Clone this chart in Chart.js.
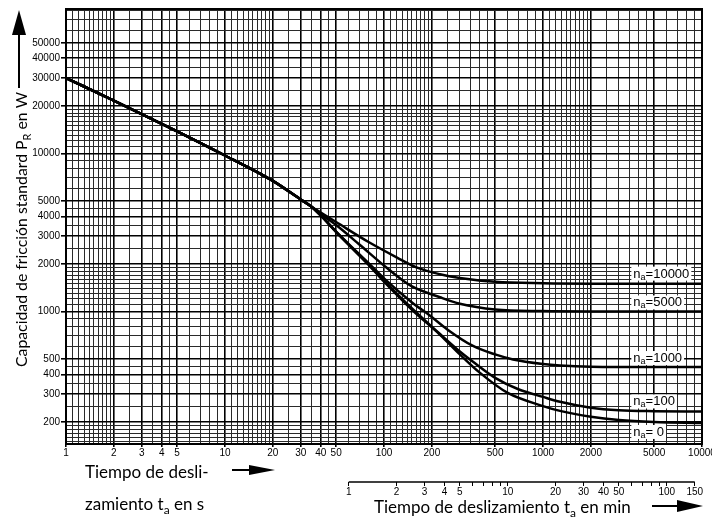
<!DOCTYPE html>
<html>
<head>
<meta charset="utf-8">
<script src="https://cdn.jsdelivr.net/npm/chart.js@4.4.0/dist/chart.umd.min.js"></script>
<style>
  body { margin: 0; background: #fff; }
  canvas { display: block; }
</style>
</head>
<body>
<canvas id="frictionChart" width="712" height="519"></canvas>
<script>
// slip time t_a in s and standard friction capacity P_R in W
const tCommon = [1, 2, 5, 10, 20, 30, 35];
const pCommon = [30000, 21600, 13800, 9700, 6700, 5100, 4600];

const t10000 = [40, 50, 80, 120, 160, 225, 300, 500, 1000, 2000, 10000];
const p10000 = [4230, 3680, 2750, 2200, 1900, 1720, 1630, 1540, 1508, 1500, 1500];

const t5000 = [40, 50, 70, 100, 126, 150, 225, 300, 500, 1000, 2000, 10000];
const p5000 = [4150, 3520, 2650, 1950, 1620, 1440, 1230, 1120, 1030, 1005, 1000, 1000];

const t1000 = [40, 50, 60, 80, 100, 150, 195, 250, 363, 500, 648, 1000, 1279, 2000, 5000, 10000];
const p1000 = [4050, 3200, 2670, 2020, 1620, 1140, 940, 770, 605, 535, 497, 465, 455, 447, 445, 445];

const t100 = [40, 50, 60, 80, 100, 150, 225, 300, 363, 500, 700, 1000, 1279, 2000, 3000, 5000, 10000];
const p100 = [4050, 3190, 2650, 1990, 1570, 1045, 720, 558, 480, 380, 322, 288, 268, 246, 237, 234, 233];

const t0 = [40, 50, 60, 80, 100, 150, 225, 300, 400, 600, 1000, 1279, 2000, 3000, 5000, 10000];
const p0 = [4050, 3180, 2640, 1970, 1545, 1025, 712, 535, 410, 305, 252, 235, 216, 206, 200, 197];

const naLabels = ['=10000', '=5000', '=1000', '=100', '= 0'];

// axis ticks
const gridMantissas = [1, 1.1, 1.2, 1.3, 1.4, 1.5, 1.6, 1.7, 1.8, 1.9, 2, 2.5, 3, 3.5, 4, 4.5, 5, 6, 7, 8, 9];
const secLabels = [1, 2, 3, 4, 5, 10, 20, 30, 40, 50, 100, 200, 500, 1000, 2000, 5000, 10000];
const powerLabels = [200, 300, 400, 500, 1000, 2000, 3000, 4000, 5000, 10000, 20000, 30000, 40000, 50000];
const minMarks = [1, 2, 3, 4, 5, 6, 7, 8, 9, 10, 20, 30, 40, 50, 60, 70, 80, 90, 100, 150];
const minLabels = [1, 2, 3, 4, 5, 10, 20, 30, 40, 50, 100, 150];

const tickFont = '"Liberation Sans", Arial, sans-serif';
const titleFont = 'Lato, "Open Sans", sans-serif';

function makeSeries(tBranch, pBranch) {
    const t = tCommon.concat(tBranch);
    const p = pCommon.concat(pBranch);
    return t.map((v, i) => ({ x: v, y: p[i] }));
}

function gridValues(lo, hi) {
    const vals = [];
    for (let e = Math.floor(Math.log10(lo)); e <= Math.ceil(Math.log10(hi)); e++) {
        gridMantissas.forEach(m => {
            const v = parseFloat((m * Math.pow(10, e)).toPrecision(6));
            if (v >= lo && v <= hi) vals.push(v);
        });
    }
    return vals;
}

function fixBox(size) {
    return function(scale) {
        if (scale.isHorizontal()) scale.height = size; else scale.width = size;
        scale.paddingLeft = 0; scale.paddingRight = 0;
        scale.paddingTop = 0; scale.paddingBottom = 0;
    };
}

// text with a subscript part: parts = [[text, isSub], ...]
function drawRich(ctx, parts, x, y, size) {
    parts.forEach(([text, sub]) => {
        ctx.font = (sub ? Math.round(size * 0.7) : size) + 'px ' + titleFont;
        ctx.fillText(text, x, sub ? y + size * 0.24 : y);
        x += ctx.measureText(text).width;
    });
    return x;
}

function arrowRight(ctx, x0, x1, head, y, half) {
    ctx.beginPath();
    ctx.moveTo(x0, y); ctx.lineTo(x1 - head, y);
    ctx.stroke();
    ctx.beginPath();
    ctx.moveTo(x1, y); ctx.lineTo(x1 - head, y - half); ctx.lineTo(x1 - head, y + half);
    ctx.closePath(); ctx.fill();
}

const decorPlugin = {
    id: 'decor',
    afterDatasetsDraw(chart) {
        const ctx = chart.ctx;
        const xs = chart.scales.x, ys = chart.scales.y;
        ctx.save();
        ctx.textBaseline = 'alphabetic';
        const shift = [-6, -5, -5, -6, 13];
        chart.data.datasets.forEach((ds, i) => {
            const last = ds.data[ds.data.length - 1];
            const x = xs.getPixelForValue(3700);
            const y = ys.getPixelForValue(last.y) + shift[i];
            ctx.font = '13px ' + tickFont;
            const w1 = ctx.measureText('n').width;
            ctx.font = '9px ' + tickFont;
            const w2 = ctx.measureText('a').width;
            ctx.font = '13px ' + tickFont;
            const w3 = ctx.measureText(naLabels[i]).width;
            ctx.fillStyle = '#fff';
            ctx.fillRect(x - 2, y - 11, w1 + w2 + w3 + 4, 14);
            ctx.fillStyle = '#000';
            ctx.fillText('n', x, y);
            ctx.font = '9px ' + tickFont;
            ctx.fillText('a', x + w1, y + 2);
            ctx.font = '13px ' + tickFont;
            ctx.fillText(naLabels[i], x + w1 + w2, y);
        });
        ctx.restore();
    },
    afterDraw(chart) {
        const ctx = chart.ctx;
        const a = chart.chartArea;
        const ms = chart.scales.xMin;
        ctx.save();
        ctx.strokeStyle = '#000';
        ctx.fillStyle = '#000';
        ctx.lineWidth = 2;
        ctx.strokeRect(a.left, a.top, a.right - a.left, a.bottom - a.top);

        // minute axis line, only from 1 to 150 min
        ctx.lineWidth = 1.5;
        ctx.beginPath();
        ctx.moveTo(ms.getPixelForValue(1), ms.top);
        ctx.lineTo(ms.getPixelForValue(150), ms.top);
        ctx.stroke();

        // axis titles
        ctx.textBaseline = 'alphabetic';
        ctx.textAlign = 'left';
        drawRich(ctx, [['Tiempo de desli-', false]], 85, 478, 17);
        drawRich(ctx, [['zamiento t', false], ['a', true], [' en s', false]], 85, 510, 17);
        ctx.lineWidth = 2;
        arrowRight(ctx, 232, 275, 26, 470, 5);

        drawRich(ctx, [['Tiempo de deslizamiento t', false], ['a', true], [' en min', false]], 374, 513, 17);
        arrowRight(ctx, 652, 703, 26, 506, 6);

        ctx.save();
        ctx.translate(27, 367);
        ctx.rotate(-Math.PI / 2);
        const end = drawRich(ctx, [['Capacidad de fricción standard P', false], ['R', true], [' en W', false]], 0, 0, 15.8);
        ctx.restore();
        const yEnd = 367 - end;
        ctx.beginPath();
        ctx.moveTo(19, yEnd - 4); ctx.lineTo(19, 35);
        ctx.stroke();
        ctx.beginPath();
        ctx.moveTo(19, 10); ctx.lineTo(12, 35); ctx.lineTo(26, 35);
        ctx.closePath(); ctx.fill();
        ctx.restore();
    }
};

function lineSet(tb, pb) {
    return {
        data: makeSeries(tb, pb),
        borderColor: '#000',
        borderWidth: 2.5,
        pointRadius: 0,
        fill: false,
        cubicInterpolationMode: 'monotone'
    };
}

const ctx = document.getElementById('frictionChart').getContext('2d');
new Chart(ctx, {
    type: 'line',
    data: {
        datasets: [
            lineSet(t10000, p10000),
            lineSet(t5000, p5000),
            lineSet(t1000, p1000),
            lineSet(t100, p100),
            lineSet(t0, p0)
        ]
    },
    options: {
        responsive: false,
        animation: false,
        events: [],
        layout: { padding: { left: 0, right: 10, top: 9, bottom: 0 } },
        plugins: {
            legend: { display: false },
            tooltip: { enabled: false }
        },
        scales: {
            x: {
                type: 'logarithmic',
                position: 'bottom',
                weight: 0,
                min: 1,
                max: 10000,
                afterFit: fixBox(38),
                afterBuildTicks: scale => { scale.ticks = gridValues(1, 10000).map(v => ({ value: v })); },
                border: { display: true, color: '#000', width: 2 },
                grid: {
                    color: c => secLabels.includes(c.tick.value) ? '#000' : '#2a2a2a',
                    lineWidth: c => secLabels.includes(c.tick.value) ? 1.6 : 1,
                    tickColor: c => secLabels.includes(c.tick.value) ? '#000' : 'rgba(0,0,0,0)',
                    tickLength: 3
                },
                ticks: {
                    autoSkip: false,
                    maxRotation: 0,
                    minRotation: 0,
                    padding: 0,
                    color: '#000',
                    font: { family: tickFont, size: 10 },
                    callback: v => secLabels.includes(v) ? String(v) : ''
                }
            },
            xMin: {
                type: 'logarithmic',
                position: 'bottom',
                weight: 1,
                min: 1 / 60,
                max: 10000 / 60,
                afterFit: fixBox(37),
                afterBuildTicks: scale => { scale.ticks = minMarks.map(v => ({ value: v })); },
                border: { display: false },
                grid: {
                    drawOnChartArea: false,
                    drawTicks: true,
                    tickLength: 4,
                    color: '#000',
                    tickColor: '#000',
                    lineWidth: 1
                },
                ticks: {
                    autoSkip: false,
                    maxRotation: 0,
                    minRotation: 0,
                    padding: 0,
                    color: '#000',
                    font: { family: tickFont, size: 10 },
                    callback: v => minLabels.includes(v) ? String(v) : ''
                }
            },
            y: {
                type: 'logarithmic',
                position: 'left',
                min: 145,
                max: 82000,
                afterFit: fixBox(66),
                afterBuildTicks: scale => { scale.ticks = gridValues(145, 82000).map(v => ({ value: v })); },
                border: { display: true, color: '#000', width: 2 },
                grid: {
                    color: c => powerLabels.includes(c.tick.value) ? '#000' : '#2a2a2a',
                    lineWidth: c => powerLabels.includes(c.tick.value) ? 1.6 : 1,
                    tickColor: c => powerLabels.includes(c.tick.value) ? '#000' : 'rgba(0,0,0,0)',
                    tickLength: 5
                },
                ticks: {
                    autoSkip: false,
                    padding: 1,
                    color: '#000',
                    font: { family: tickFont, size: 10 },
                    callback: v => powerLabels.includes(v) ? String(v) : ''
                }
            }
        }
    },
    plugins: [decorPlugin]
});
</script>
</body>
</html>
